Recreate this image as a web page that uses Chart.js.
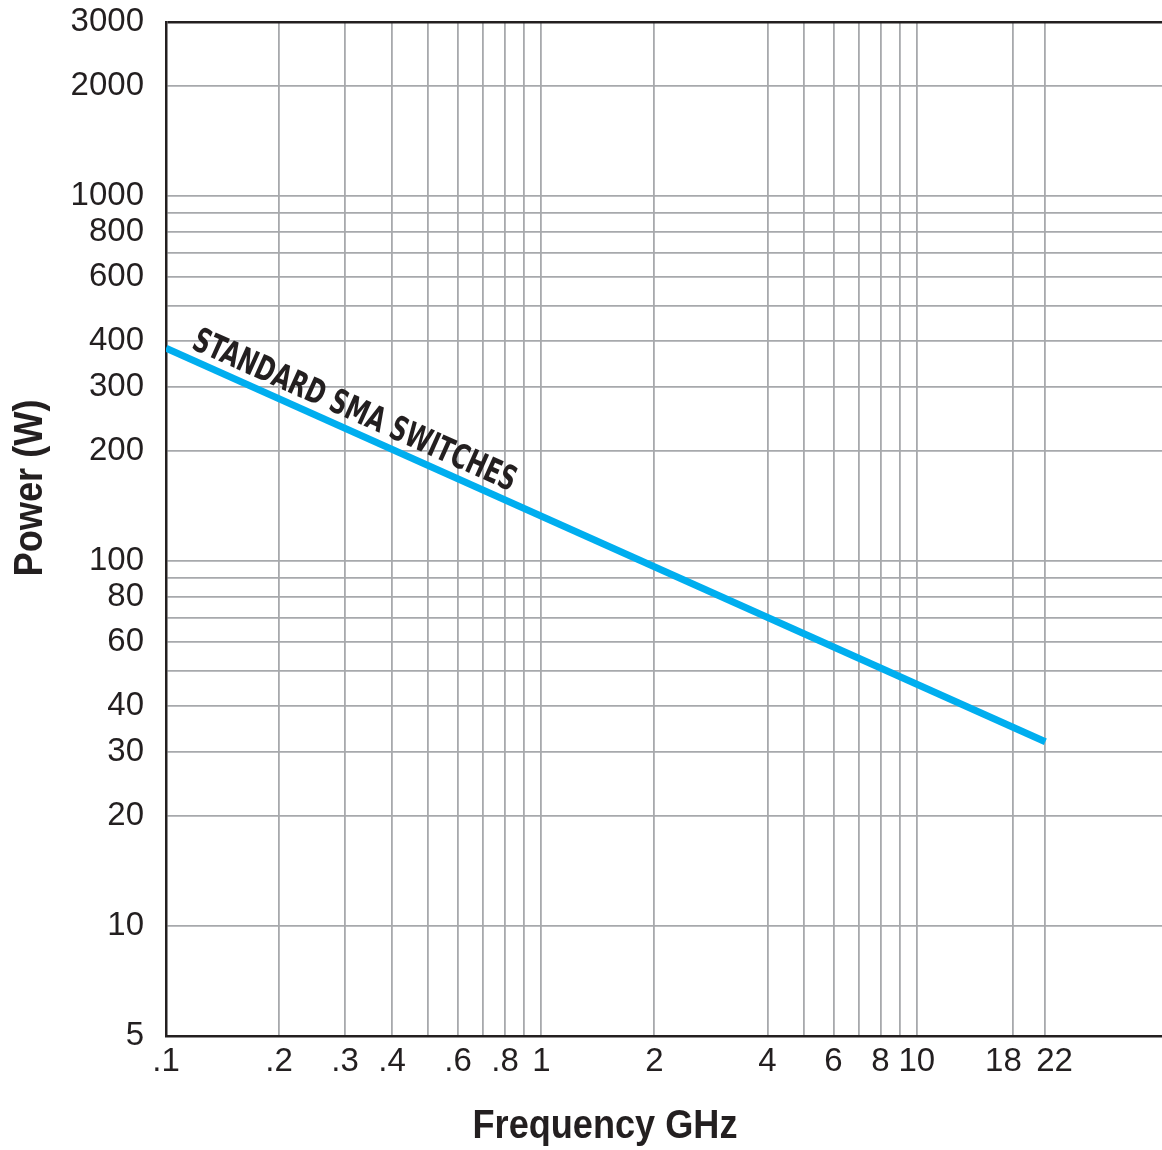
<!DOCTYPE html>
<html>
<head>
<meta charset="utf-8">
<title>Power vs Frequency</title>
<script src="https://cdn.jsdelivr.net/npm/chart.js@4"></script>
<style>
  html, body { margin: 0; padding: 0; background: #ffffff; }
</style>
</head>
<body>
<canvas id="powerChart" width="1162" height="1150"></canvas>
<script>
// values (log-log chart)
const frequencyGHz = [0.1, 22];
const powerW = [383, 32];
const seriesLabel = "STANDARD SMA SWITCHES";

const xGridValues = [0.1, 0.2, 0.3, 0.4, 0.5, 0.6, 0.7, 0.8, 0.9, 1, 2, 4, 5, 6, 7, 8, 9, 10, 18, 22];
const xLabelValues = [0.1, 0.2, 0.3, 0.4, 0.6, 0.8, 1, 2, 4, 6, 8, 10, 18, 22];
const yGridValues = [5, 10, 20, 30, 40, 50, 60, 70, 80, 90, 100, 200, 300, 400, 500, 600, 700, 800, 900, 1000, 2000, 3000];
const yLabelValues = [5, 10, 20, 30, 40, 60, 80, 100, 200, 300, 400, 600, 800, 1000, 2000, 3000];

const xTitle = "Frequency GHz";
const yTitle = "Power (W)";

const INK = "#231f20";
const GRID = "#a7a9ac";
const BLUE = "#00aeef";
const SANS = "'Liberation Sans', Arial, Helvetica, sans-serif";
const FIG = "\u2007"; // figure space, nudges the crowded 18 / 22 labels apart

// draws text squeezed/stretched to a given width
function fittedText(ctx, text, font, width, x, y, angle, align) {
  ctx.save();
  ctx.translate(x, y);
  ctx.rotate(angle);
  ctx.font = font;
  ctx.fillStyle = INK;
  ctx.textBaseline = "alphabetic";
  ctx.textAlign = align;
  const w = ctx.measureText(text).width;
  ctx.scale(width / w, 1);
  ctx.fillText(text, 0, 0);
  ctx.restore();
}

const textPlugin = {
  id: "chartTexts",
  afterDraw(chart) {
    const ctx = chart.ctx;
    const xs = chart.scales.x;
    const ys = chart.scales.y;

    // axis titles
    fittedText(ctx, xTitle, "bold 40px " + SANS, 265, 605, 1138, 0, "center");
    fittedText(ctx, yTitle, "bold 40px " + SANS, 177, 42, 488, -Math.PI / 2, "center");

    // label along the line
    const last = frequencyGHz.length - 1;
    const x0 = xs.getPixelForValue(frequencyGHz[0]);
    const y0 = ys.getPixelForValue(powerW[0]);
    const x1 = xs.getPixelForValue(frequencyGHz[last]);
    const y1 = ys.getPixelForValue(powerW[last]);
    const a = Math.atan2(y1 - y0, x1 - x0);
    const along = 22, above = 10;
    const sx = x0 + along * Math.cos(a) + above * Math.sin(a);
    const sy = y0 + along * Math.sin(a) - above * Math.cos(a);
    fittedText(ctx, seriesLabel,
      "bold 34px 'Liberation Sans Narrow', 'DejaVu Sans Condensed', sans-serif",
      351, sx, sy, a, "left");
  }
};

function xLabel(v) {
  if (!xLabelValues.includes(v)) return "";
  if (v === 18) return "18" + FIG;
  if (v === 22) return FIG + "22";
  return v < 1 ? String(v).replace(/^0\./, ".") : String(v);
}

const ctx = document.getElementById("powerChart").getContext("2d");
new Chart(ctx, {
  type: "line",
  data: {
    datasets: [
      {
        label: seriesLabel,
        data: frequencyGHz.map((f, i) => ({ x: f, y: powerW[i] })),
        borderColor: BLUE,
        borderWidth: 7,
        borderCapStyle: "butt",
        pointRadius: 0,
        fill: false,
        tension: 0,
      },
    ],
  },
  options: {
    responsive: false,
    animation: false,
    layout: { padding: { top: 22, right: 0, bottom: 0, left: 0 } },
    plugins: {
      legend: { display: false },
      tooltip: { enabled: false },
    },
    scales: {
      x: {
        type: "logarithmic",
        min: 0.1,
        max: 45,
        afterBuildTicks: (scale) => {
          scale.ticks = xGridValues.map((v) => ({ value: v }));
        },
        afterFit: (scale) => {
          scale.height = 114;
        },
        grid: {
          drawTicks: false,
          color: (c) => (c.tick && c.tick.value === 0.1 ? INK : GRID),
          lineWidth: 1.8,
        },
        border: { color: INK, width: 2.5 },
        ticks: {
          autoSkip: false,
          maxRotation: 0,
          minRotation: 0,
          padding: 6,
          color: INK,
          font: { family: SANS, size: 33 },
          callback: (v) => xLabel(v),
        },
      },
      y: {
        type: "logarithmic",
        min: 5,
        max: 3000,
        afterBuildTicks: (scale) => {
          scale.ticks = yGridValues.map((v) => ({ value: v }));
        },
        afterFit: (scale) => {
          scale.width = 166;
          // labels may overhang the plot edges; keep the plot where the reference has it
          scale.paddingTop = 0;
          scale.paddingBottom = 0;
        },
        grid: {
          drawTicks: false,
          color: (c) => (c.tick && (c.tick.value === 3000 || c.tick.value === 5) ? INK : GRID),
          lineWidth: (c) => (c.tick && c.tick.value === 3000 ? 2.5 : 1.8),
        },
        border: { color: INK, width: 2.5 },
        ticks: {
          autoSkip: false,
          padding: 22,
          color: INK,
          font: { family: SANS, size: 33 },
          callback: (v) => (yLabelValues.includes(v) ? String(v) : ""),
        },
      },
    },
  },
  plugins: [textPlugin],
});
</script>
</body>
</html>
